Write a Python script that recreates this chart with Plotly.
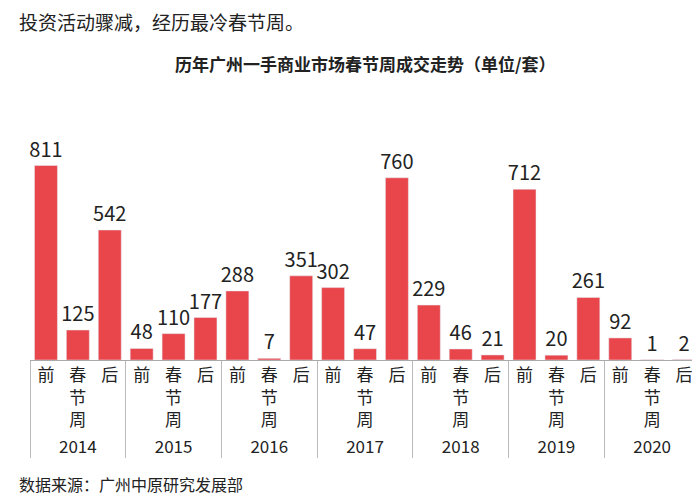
import plotly.graph_objects as go

years = ["2014","2015","2016","2017","2018","2019","2020"]
subcats = ["前", "春<br>节<br>周", "后"]
values = [[811,125,542],[48,110,177],[288,7,351],[302,47,760],[229,46,21],[712,20,261],[92,1,2]]

x0, x1, y = [], [], []
for yr, vals in zip(years, values):
    for s, v in zip(subcats, vals):
        x0.append(yr); x1.append(s); y.append(v)

fig = go.Figure(go.Bar(
    x=[x0, x1], y=y, marker_color="#E8464B",
    text=[str(v) for v in y], textposition="outside", constraintext="none",
    textfont=dict(size=20, color="#222"), cliponaxis=False, width=0.72,
))
fig.update_layout(
    width=700, height=500, plot_bgcolor="white", paper_bgcolor="white",
    margin=dict(l=22, r=8, t=105, b=148),
    font=dict(family="Noto Sans CJK SC", color="#222"),
    showlegend=False, bargap=0.1,
    xaxis=dict(tickfont=dict(size=17), showline=True, linecolor="#aaa",
               showdividers=True, dividercolor="#bbb", dividerwidth=1),
    yaxis=dict(visible=False, range=[0, 1030]),
)
fig.add_annotation(text="投资活动骤减，经历最冷春节周。", xref="paper", yref="paper",
                   x=-0.02, y=1.37, xanchor="left", yanchor="middle", showarrow=False, font=dict(size=19))
fig.add_annotation(text="<b>历年广州一手商业市场春节周成交走势（单位/套）</b>", xref="paper", yref="paper",
                   x=0.5, y=1.2, xanchor="center", yanchor="middle", showarrow=False, font=dict(size=17))
fig.add_annotation(text="数据来源：广州中原研究发展部", xref="paper", yref="paper",
                   x=-0.02, y=-0.5, xanchor="left", yanchor="middle", showarrow=False, font=dict(size=16))
fig.write_html("out.html")
